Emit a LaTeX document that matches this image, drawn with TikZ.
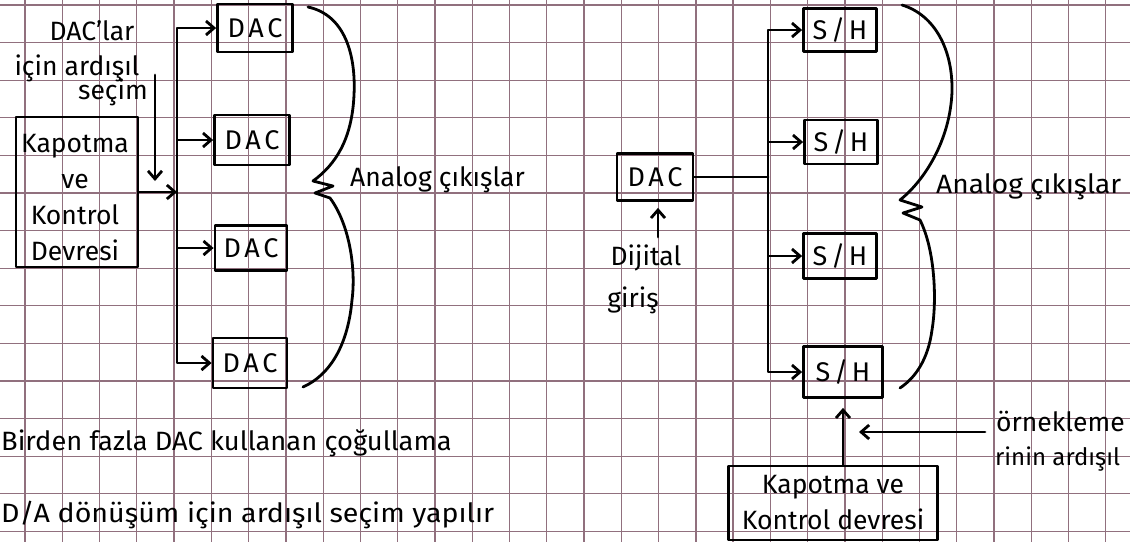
\documentclass[tikz,border=0pt]{standalone}
\usepackage{fontspec}
\setmainfont{Fira Sans}
\newfontfamily\boxfont[LetterSpace=14]{Fira Sans}
\usetikzlibrary{arrows.meta}
\newcommand\handsize{\fontsize{26.5}{36}\selectfont}
\newcommand\labsize{\boxfont\fontsize{27}{36}\selectfont}
\definecolor{gridink}{RGB}{145,112,126}
\begin{document}
\begin{tikzpicture}[x=1pt,y=-1pt,
  ink/.style={line width=2.8pt, black, line cap=round, line join=round},
  conn/.style={ink, -{Straight Barb[length=8pt,width=14pt]}},
  box/.style={draw, ink, inner sep=0pt, font=\labsize},
  hand/.style={inner sep=0pt, font=\handsize},
  gridline/.style={line width=1.3pt, gridink}]

\useasboundingbox (0,0) rectangle (1130,542);
\fill[white] (0,0) rectangle (1130,542);

% squared paper
\foreach \i in {0,...,30} \draw[gridline] ({25+37.27*\i},0) -- ++(0,542);
\foreach \j in {0,...,14} \draw[gridline] (0,{5+37.6*\j}) -- ++(1130,0);

% ---------- multiplexing with several DACs ----------
\node[box, minimum width=122pt, minimum height=150pt] (kk) at (77,192) {};
\node[hand, align=center, font=\handsize] (kkText) at (75,198)
  {Kapotma\\ve\\Kontrol\\Devresi};
\node[box, minimum width=75pt, minimum height=48pt] (dacA) at (255,28) {DAC};
\node[box, minimum width=75pt, minimum height=50pt] (dacB) at (252,140) {DAC};
\node[box, minimum width=72pt, minimum height=45pt] (dacC) at (251,248) {DAC};
\node[box, minimum width=74pt, minimum height=50pt] (dacD) at (250,363) {DAC};

\coordinate (jL) at (177,192);
\draw[conn] (kk.east) -- (jL);
\draw[conn] (jL) |- (dacA.west);
\draw[conn] (jL) |- (dacB.west);
\draw[conn] (jL) |- (dacC.west);
\draw[conn] (jL) |- (dacD.west);

\node[hand] (selA) at (92,31) {DAC'lar};
\node[hand] (selB) at (77,68) {için ardışıl};
\node[hand] (selC) at (113,92) {seçim};
\coordinate (selTop) at (155,75);
\coordinate (selEnd) at (155,181);
\draw[conn] (selTop) -- (selEnd);

\draw[ink] (308,7) .. controls (345,15) and (356,55) .. (354,95)
  .. controls (352,140) and (335,165) .. (313,181) -- (333,186) -- (315,193) -- (330,198)
  .. controls (350,225) and (356,270) .. (352,300)
  .. controls (348,345) and (330,375) .. (303,387);
\node[hand, anchor=west] (outL) at (350,180) {Analog çıkışlar};

\node[hand, anchor=west] (capA) at (1,443) {\scalebox{1.03}[1]{Birden fazla DAC kullanan çoğullama}};
\node[hand, anchor=west] (capB) at (1,515) {\scalebox{1.08}[1]{D/A dönüşüm için ardışıl seçim yapılır}};

% ---------- multiplexing with sample/hold circuits ----------
\node[box, minimum width=76pt, minimum height=47pt] (dacR) at (655,177) {DAC};
\node[box, minimum width=73pt, minimum height=43pt] (shA) at (840,30) {S/H};
\node[box, minimum width=73pt, minimum height=44pt] (shB) at (841,142) {S/H};
\node[box, minimum width=73pt, minimum height=45pt] (shC) at (840,256) {S/H};
\node[box, minimum width=79pt, minimum height=51pt] (shD) at (843,372) {S/H};
\node[box, minimum width=209pt, minimum height=74pt, align=center, font=\handsize] (kkR) at (833,503)
  {Kapotma ve\\Kontrol devresi};

\coordinate (jR) at (768,177);
\draw[ink] (dacR.east) -- (jR);
\draw[conn] (jR) |- (shA.west);
\draw[conn] (jR) |- (shB.west);
\draw[conn] (jR) |- (shC.west);
\draw[conn] (jR) |- (shD.west);

\node[hand] (digA) at (646,258) {Dijital};
\node[hand] (digB) at (633,300) {giriş};
\coordinate (digTop) at (658,237);
\draw[conn, shorten >=6pt] (digTop) -- (dacR.south -| digTop);

\draw[conn, shorten >=9pt] (kkR.north -| shD.south) -- (shD.south);

\coordinate (smpFrom) at (985,432);
\coordinate (smpTo) at (859,432);
\draw[conn] (smpFrom) -- (smpTo);
\node[hand, anchor=west] (smpA) at (996,421) {örnekleme};
\node[hand, anchor=west, font=\fontsize{24}{30}\selectfont] (smpB) at (995,459) {rinin ardışıl};

\draw[ink] (902,5) .. controls (935,15) and (953,50) .. (952,92)
  .. controls (950,140) and (925,180) .. (900,200) -- (922,207) -- (903,213) -- (920,220)
  .. controls (935,250) and (937,300) .. (932,330)
  .. controls (928,360) and (915,378) .. (900,388);
\node[hand, anchor=west] (outR) at (936,187) {\scalebox{1.06}[1]{Analog çıkışlar}};
\end{tikzpicture}
\end{document}
